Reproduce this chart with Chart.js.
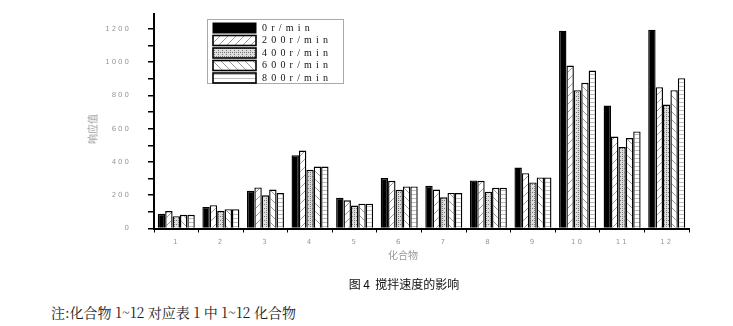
<!DOCTYPE html>
<html>
<head>
<meta charset="utf-8">
<script src="https://cdn.jsdelivr.net/npm/chart.js@4"></script>
<style>
  body { margin: 0; background: #fff; width: 733px; height: 326px; overflow: hidden; position: relative; }
  #wrap { position: absolute; left: 0; top: 0; width: 733px; height: 270px; }
  .lbl { position: absolute; color: #999; font-family: "Noto Sans CJK SC", sans-serif; font-size: 10px; white-space: nowrap; }
  #ytitle { left: 92px; top: 129px; transform: translate(-50%, -50%) rotate(-90deg); }
  #xtitle { left: 403px; top: 254px; transform: translate(-50%, -50%); }
  #caption { position: absolute; left: 404px; top: 283px; transform: translate(-50%, -50%); font-family: "Noto Sans CJK SC", sans-serif; font-size: 12px; color: #111; white-space: nowrap; }
  #note { position: absolute; left: 51px; top: 302px; font-family: "Noto Serif CJK SC", "Noto Sans CJK SC", serif; font-size: 14px; color: #222; white-space: nowrap; }
</style>
</head>
<body>
<div id="wrap"><canvas id="chart" width="733" height="270"></canvas></div>
<div class="lbl" id="ytitle">响应值</div>
<div class="lbl" id="xtitle">化合物</div>
<div id="caption">图 4&nbsp; 搅拌速度的影响</div>
<div id="note">注:化合物 1~12 对应表 1 中 1~12 化合物</div>
<script>
const compounds = ['1', '2', '3', '4', '5', '6', '7', '8', '9', '10', '11', '12'];
const speeds = ['0r/min', '200r/min', '400r/min', '600r/min', '800r/min'];
const rpm0 = [88, 130, 227, 441, 185, 303, 257, 289, 367, 1190, 739, 1196];
const rpm200 = [105, 140, 247, 469, 170, 287, 234, 287, 333, 980, 553, 850];
const rpm400 = [74, 106, 200, 353, 138, 233, 188, 221, 277, 832, 490, 745];
const rpm600 = [82, 116, 234, 373, 149, 253, 214, 245, 307, 876, 544, 832];
const rpm800 = [82, 116, 214, 373, 149, 253, 214, 245, 307, 950, 584, 904];
const yTicks = [0, 200, 400, 600, 800, 1000, 1200];

function makePattern(kind) {
  const c = document.createElement('canvas');
  const size = kind === 'dots' || kind === 'hlines' ? 4 : 8;
  c.width = size;
  c.height = size;
  const g = c.getContext('2d');
  g.fillStyle = '#fff';
  g.fillRect(0, 0, size, size);
  g.strokeStyle = '#999';
  g.lineWidth = 1;
  if (kind === 'solid') {
    g.fillStyle = '#000';
    g.fillRect(0, 0, size, size);
  } else if (kind === 'fwd') {
    g.beginPath();
    g.moveTo(-1, size + 1);
    g.lineTo(size + 1, -1);
    g.stroke();
  } else if (kind === 'back') {
    g.beginPath();
    g.moveTo(-1, -1);
    g.lineTo(size + 1, size + 1);
    g.stroke();
  } else if (kind === 'dots') {
    g.fillStyle = '#ddd';
    g.fillRect(0, 0, size, size);
    g.fillStyle = '#777';
    g.fillRect(0, 0, 1, 1);
    g.fillRect(2, 2, 1, 1);
    g.fillRect(2, 0, 1, 1);
  } else if (kind === 'hlines') {
    g.fillStyle = '#bbb';
    g.fillRect(0, 2, size, 1);
  }
  return g.createPattern(c, 'repeat');
}

const fills = [makePattern('solid'), makePattern('fwd'), makePattern('dots'), makePattern('back'), makePattern('hlines')];
const series = [rpm0, rpm200, rpm400, rpm600, rpm800];

// wide letter spacing for the axis numbers, switched off before bars draw
const spacedTicks = {
  id: 'spacedTicks',
  beforeDraw(chart) { chart.ctx.letterSpacing = '2px'; },
  beforeDatasetsDraw(chart) { chart.ctx.letterSpacing = '0px'; },
};

// legend box drawn inside the plot, like the original figure
const boxLegend = {
  id: 'boxLegend',
  afterDraw(chart) {
    const ctx = chart.ctx;
    ctx.save();
    ctx.strokeStyle = '#aaa';
    ctx.lineWidth = 1;
    ctx.strokeRect(207.5, 19.5, 136, 64);
    ctx.font = '10px "Liberation Serif", serif';
    ctx.textBaseline = 'middle';
    ctx.letterSpacing = '4.2px';
    speeds.forEach((name, i) => {
      const y = 28 + i * 12.5;
      ctx.fillStyle = fills[i];
      ctx.fillRect(213, y - 5, 43, 10);
      ctx.strokeStyle = '#000';
      ctx.lineWidth = i === 0 ? 1 : 1.6;
      ctx.strokeRect(213, y - 5, 43, 10);
      ctx.fillStyle = '#111';
      ctx.fillText(name, 262, y);
    });
    ctx.restore();
  },
};

new Chart(document.getElementById('chart'), {
  type: 'bar',
  data: {
    labels: compounds,
    datasets: series.map((vals, i) => ({
      label: speeds[i],
      data: vals,
      backgroundColor: fills[i],
      borderColor: '#000',
      borderWidth: 1.4,
      borderSkipped: 'bottom',
      barPercentage: 1,
      categoryPercentage: 0.83,
    })),
  },
  options: {
    responsive: false,
    animation: false,
    devicePixelRatio: 1,
    layout: { padding: { top: 14, right: 44, left: 0, bottom: 0 } },
    plugins: {
      legend: { display: false },
      tooltip: { enabled: false },
    },
    scales: {
      x: {
        grid: { display: true, drawOnChartArea: false, tickLength: 4, color: '#000' },
        border: { display: true, color: '#000', width: 2 },
        ticks: {
          color: '#999',
          font: { size: 7, family: 'DejaVu Sans' },
          padding: 5,
          maxRotation: 0,
          autoSkip: false,
        },
        afterFit: (scale) => {
          scale.height = 41.5;
          scale.paddingLeft = 0;
          scale.paddingRight = 0;
        },
      },
      y: {
        min: 0,
        max: 1290,
        grid: { display: true, drawOnChartArea: false, tickLength: 6, color: '#000', lineWidth: 1.5 },
        border: { display: true, color: '#000', width: 2 },
        ticks: {
          autoSkip: false,
          color: '#999',
          font: { size: 7, family: 'DejaVu Sans' },
          padding: 17,
          callback: (v) => (yTicks.includes(v) ? String(v) : ''),
        },
        // major ticks every 200 with a minor one halfway between
        afterBuildTicks: (scale) => {
          const ticks = [];
          yTicks.forEach((v, i) => {
            ticks.push({ value: v });
            if (i < yTicks.length - 1) ticks.push({ value: (v + yTicks[i + 1]) / 2 });
          });
          scale.ticks = ticks;
        },
        afterFit: (scale) => {
          scale.width = 154;
          scale.paddingTop = 0;
          scale.paddingBottom = 0;
        },
      },
    },
  },
  plugins: [spacedTicks, boxLegend],
});
</script>
</body>
</html>
